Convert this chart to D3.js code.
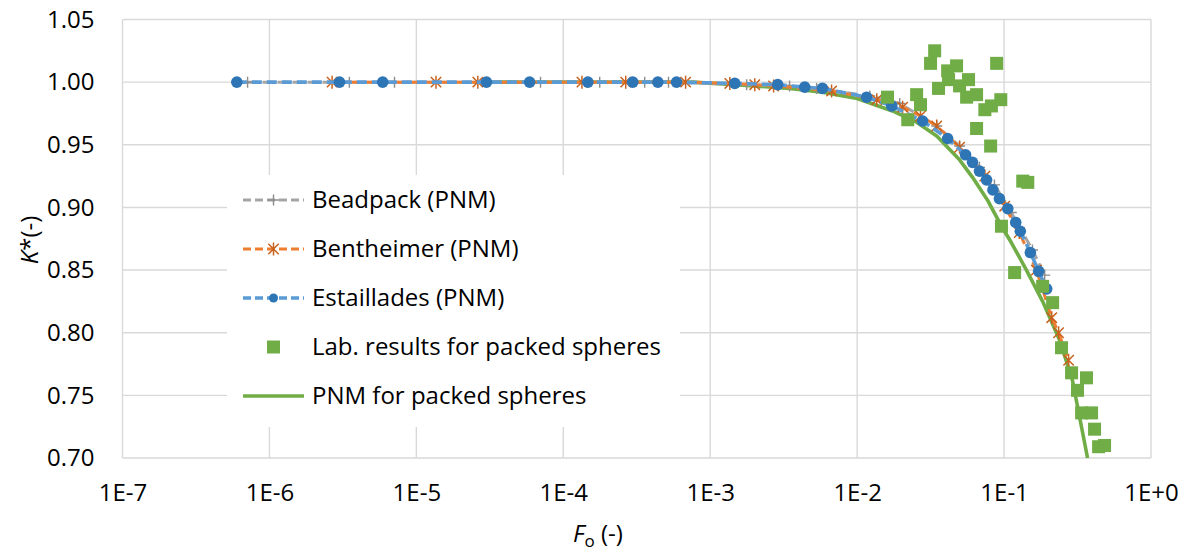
<!DOCTYPE html>
<html>
<head>
<meta charset="utf-8">
<script src="https://cdn.jsdelivr.net/npm/d3@7"></script>
<style>
  html, body { margin: 0; padding: 0; background: #fff; }
  svg { display: block; font-family: "Open Sans", sans-serif; }
</style>
</head>
<body>
<svg id="chart" width="1187" height="553"></svg>
<script>
// ---------------- DATA ----------------
const xTicks = [1e-7, 1e-6, 1e-5, 1e-4, 1e-3, 1e-2, 1e-1, 1];
const xTickLabels = ["1E-7", "1E-6", "1E-5", "1E-4", "1E-3", "1E-2", "1E-1", "1E+0"];
const yTicks = [0.70, 0.75, 0.80, 0.85, 0.90, 0.95, 1.00, 1.05];
const yTickLabels = ["0.70", "0.75", "0.80", "0.85", "0.90", "0.95", "1.00", "1.05"];

const seriesNames = ["Beadpack (PNM)", "Bentheimer (PNM)", "Estaillades (PNM)",
                     "Lab. results for packed spheres", "PNM for packed spheres"];

const beadpackF = [7.1e-7, 3.5e-6, 7.1e-6, 7.0e-5, 1.77e-4, 3.58e-4, 5.2e-4, 1.77e-3, 3.47e-3, 5.3e-3,
                   1.22e-2, 1.95e-2, 3.48e-2, 4.98e-2, 6.8e-2, 8.6e-2, 0.112, 0.156, 0.189];
const beadpackK = [1.0, 1.0, 1.0, 1.0, 1.0, 1.0, 1.0, 0.998, 0.997, 0.995,
                   0.989, 0.983, 0.965, 0.949, 0.932, 0.918, 0.896, 0.866, 0.846];

const bentheimerF = [2.67e-6, 1.36e-5, 2.62e-5, 1.34e-4, 2.66e-4, 6.8e-4, 1.36e-3, 2.01e-3, 2.70e-3, 6.7e-3,
                     1.36e-2, 2.04e-2, 2.70e-2, 3.48e-2, 4.98e-2, 7.4e-2, 0.101, 0.127, 0.166, 0.211, 0.235, 0.275];
const bentheimerK = [1.0, 1.0, 1.0, 1.0, 1.0, 1.0, 0.999, 0.998, 0.997, 0.993,
                     0.986, 0.980, 0.973, 0.965, 0.948, 0.925, 0.901, 0.880, 0.850, 0.812, 0.800, 0.778];

const estailladesF = [6.0e-7, 3.0e-6, 5.9e-6, 3.0e-5, 5.9e-5, 1.47e-4, 2.97e-4, 4.4e-4, 5.9e-4, 1.47e-3,
                      2.88e-3, 4.4e-3, 5.8e-3, 1.16e-2, 1.72e-2, 2.79e-2, 4.13e-2, 5.47e-2, 6.1e-2, 6.8e-2,
                      7.6e-2, 8.4e-2, 9.3e-2, 0.106, 0.120, 0.129, 0.151, 0.172, 0.195];
const estailladesK = [1.0, 1.0, 1.0, 1.0, 1.0, 1.0, 1.0, 1.0, 1.0, 0.999,
                      0.998, 0.996, 0.995, 0.988, 0.981, 0.969, 0.955, 0.942, 0.936, 0.929,
                      0.922, 0.914, 0.907, 0.899, 0.888, 0.881, 0.864, 0.849, 0.835];

const labF = [1.61e-2, 2.54e-2, 2.70e-2, 2.21e-2, 3.16e-2, 3.37e-2, 4.13e-2, 4.75e-2, 4.19e-2, 5.73e-2,
              3.58e-2, 4.98e-2, 5.56e-2, 6.5e-2, 7.4e-2, 8.2e-2, 9.5e-2, 8.9e-2, 6.5e-2, 8.1e-2,
              0.134, 0.145, 9.6e-2, 0.118, 0.183, 0.214, 0.246, 0.288, 0.364, 0.316,
              0.337, 0.394, 0.413, 0.440, 0.483];
const labK = [0.988, 0.990, 0.982, 0.970, 1.015, 1.025, 1.009, 1.013, 1.002, 1.002,
              0.995, 0.997, 0.988, 0.990, 0.978, 0.981, 0.986, 1.015, 0.963, 0.949,
              0.921, 0.920, 0.885, 0.848, 0.837, 0.824, 0.788, 0.768, 0.764, 0.754,
              0.736, 0.736, 0.723, 0.709, 0.710];

const pnmF = [2.97e-5, 1.51e-4, 7.6e-4, 1.47e-3, 3.47e-3, 5.8e-3, 1.0e-2, 1.74e-2, 2.54e-2, 3.48e-2,
              4.98e-2, 6.1e-2, 7.7e-2, 9.6e-2, 0.112, 0.142, 0.183, 0.239, 0.292, 0.370];
const pnmK = [1.0, 1.0, 1.0, 0.998, 0.995, 0.992, 0.987, 0.977, 0.968, 0.957,
              0.938, 0.924, 0.906, 0.885, 0.872, 0.850, 0.825, 0.794, 0.762, 0.700];

// ---------------- STYLE ----------------
const W = 1187, H = 553;
const plot = { left: 122.5, right: 1151, top: 19.5, bottom: 458 };
const gridColor = "#D9D9D9";
const C = {
  greyLine: "#A5A5A5", greyMark: "#8C8C8C",
  orangeLine: "#ED7D31", orangeMark: "#C8621E",
  blueLine: "#5B9BD5", blueMark: "#2E75B6",
  green: "#70AD47"
};

const svg = d3.select("#chart");
svg.append("rect").attr("width", W).attr("height", H).attr("fill", "#fff");

const x = d3.scaleLog().domain([1e-7, 1]).range([plot.left, plot.right]);
const y = d3.scaleLinear().domain([0.70, 1.05]).range([plot.bottom, plot.top]);

// grid
const grid = svg.append("g");
grid.selectAll("line.h").data(yTicks).join("line")
  .attr("x1", plot.left).attr("x2", plot.right)
  .attr("y1", d => y(d)).attr("y2", d => y(d))
  .attr("stroke", gridColor).attr("stroke-width", 1.4);
grid.selectAll("line.v").data(xTicks).join("line")
  .attr("x1", d => x(d)).attr("x2", d => x(d))
  .attr("y1", plot.top).attr("y2", plot.bottom)
  .attr("stroke", gridColor).attr("stroke-width", 1.4);

// axes labels
const yAxis = d3.axisLeft(y).tickValues(yTicks).tickFormat((d, i) => yTickLabels[i]).tickSize(0).tickPadding(28);
const gy = svg.append("g").attr("transform", `translate(${plot.left},0)`).call(yAxis);
gy.select(".domain").remove();
gy.selectAll("text").attr("font-size", 24).attr("fill", "#000").attr("font-family", "Open Sans");

const xAxis = d3.axisBottom(x).tickValues(xTicks).tickFormat((d, i) => xTickLabels[i]).tickSize(0).tickPadding(26);
const gx = svg.append("g").attr("transform", `translate(0,${plot.bottom})`).call(xAxis);
gx.select(".domain").remove();
gx.selectAll("text").attr("font-size", 24).attr("fill", "#000").attr("font-family", "Open Sans");

// axis titles
const xt = svg.append("text").attr("x", 598).attr("y", 542).attr("text-anchor", "middle")
  .attr("font-size", 24).attr("fill", "#000");
xt.append("tspan").attr("font-style", "italic").text("F");
xt.append("tspan").attr("font-size", 17).attr("dy", 5).text("o");
xt.append("tspan").attr("dy", -5).text(" (-)");

const yt = svg.append("text").attr("transform", "translate(38,240) rotate(-90)")
  .attr("text-anchor", "middle").attr("font-size", 24).attr("fill", "#000");
yt.append("tspan").attr("font-style", "italic").text("K");
yt.append("tspan").text("*(-)");

// markers
function plusPath(s) { const h = s / 2; return `M${-h},0H${h}M0,${-h}V${h}`; }
function starPath(s) { const h = s / 2, d = h * 0.8;
  return `M${-d},${-d}L${d},${d}M${-d},${d}L${d},${-d}M0,${-h}V${h}`; }

const lineGen = d3.line().x(d => x(d[0])).y(d => y(d[1]));
const zip = (a, b) => a.map((v, i) => [v, b[i]]);

const beadpack = zip(beadpackF, beadpackK);
const bentheimer = zip(bentheimerF, bentheimerK);
const estaillades = zip(estailladesF, estailladesK);
const lab = zip(labF, labK);
const pnm = zip(pnmF, pnmK);

const layer = svg.append("g");

// PNM line (bottom)
layer.append("path").datum(pnm).attr("d", lineGen)
  .attr("fill", "none").attr("stroke", C.green).attr("stroke-width", 3.6).attr("stroke-linejoin", "round");

// Beadpack
layer.append("path").datum(beadpack).attr("d", lineGen)
  .attr("fill", "none").attr("stroke", C.greyLine).attr("stroke-width", 3).attr("stroke-dasharray", "10,5");
layer.append("g").selectAll("path").data(beadpack).join("path")
  .attr("transform", d => `translate(${x(d[0])},${y(d[1])})`)
  .attr("d", plusPath(11)).attr("stroke", C.greyMark).attr("stroke-width", 1.4).attr("fill", "none");

// Bentheimer
layer.append("path").datum(bentheimer).attr("d", lineGen)
  .attr("fill", "none").attr("stroke", C.orangeLine).attr("stroke-width", 3).attr("stroke-dasharray", "10,5");
layer.append("g").selectAll("path").data(bentheimer).join("path")
  .attr("transform", d => `translate(${x(d[0])},${y(d[1])})`)
  .attr("d", starPath(13)).attr("stroke", C.orangeMark).attr("stroke-width", 1.5).attr("fill", "none");

// Estaillades
layer.append("path").datum(estaillades).attr("d", lineGen)
  .attr("fill", "none").attr("stroke", C.blueLine).attr("stroke-width", 3.6).attr("stroke-dasharray", "10,5");
layer.append("g").selectAll("circle").data(estaillades).join("circle")
  .attr("cx", d => x(d[0])).attr("cy", d => y(d[1])).attr("r", 5.8).attr("fill", C.blueMark);

// Lab squares
layer.append("g").selectAll("rect").data(lab).join("rect")
  .attr("x", d => x(d[0]) - 6.5).attr("y", d => y(d[1]) - 6.5)
  .attr("width", 13).attr("height", 13).attr("fill", C.green);

// legend
const lg = svg.append("g");
lg.append("rect").attr("x", 227).attr("y", 175).attr("width", 453).attr("height", 252).attr("fill", "#fff");
const legendY = [200, 249, 298, 347, 396];
const lx1 = 243, lx2 = 304, lmx = 273.5, ltx = 312;
const legendDefs = [
  { line: C.greyLine, dash: "8,4", w: 3, mark: "plus" },
  { line: C.orangeLine, dash: "8,4", w: 3, mark: "star" },
  { line: C.blueLine, dash: "8,4", w: 3.4, mark: "circle" },
  { line: null, mark: "square" },
  { line: C.green, dash: null, w: 3.6, mark: null }
];
legendDefs.forEach((d, i) => {
  const cy = legendY[i];
  if (d.line) {
    lg.append("line").attr("x1", lx1).attr("x2", lx2).attr("y1", cy).attr("y2", cy)
      .attr("stroke", d.line).attr("stroke-width", d.w)
      .attr("stroke-dasharray", d.dash ? d.dash : null);
  }
  if (d.mark === "plus") lg.append("path").attr("transform", `translate(${lmx},${cy})`).attr("d", plusPath(11))
      .attr("stroke", C.greyMark).attr("stroke-width", 1.4).attr("fill", "none");
  if (d.mark === "star") lg.append("path").attr("transform", `translate(${lmx},${cy})`).attr("d", starPath(13))
      .attr("stroke", C.orangeMark).attr("stroke-width", 1.5).attr("fill", "none");
  if (d.mark === "circle") lg.append("circle").attr("cx", lmx).attr("cy", cy).attr("r", 4.5).attr("fill", C.blueMark);
  if (d.mark === "square") lg.append("rect").attr("x", lmx - 6.5).attr("y", cy - 6.5).attr("width", 13).attr("height", 13).attr("fill", C.green);
  lg.append("text").attr("x", ltx).attr("y", cy).attr("dy", "0.35em")
    .attr("font-size", 24).attr("fill", "#000").text(seriesNames[i]);
});
</script>
</body>
</html>
